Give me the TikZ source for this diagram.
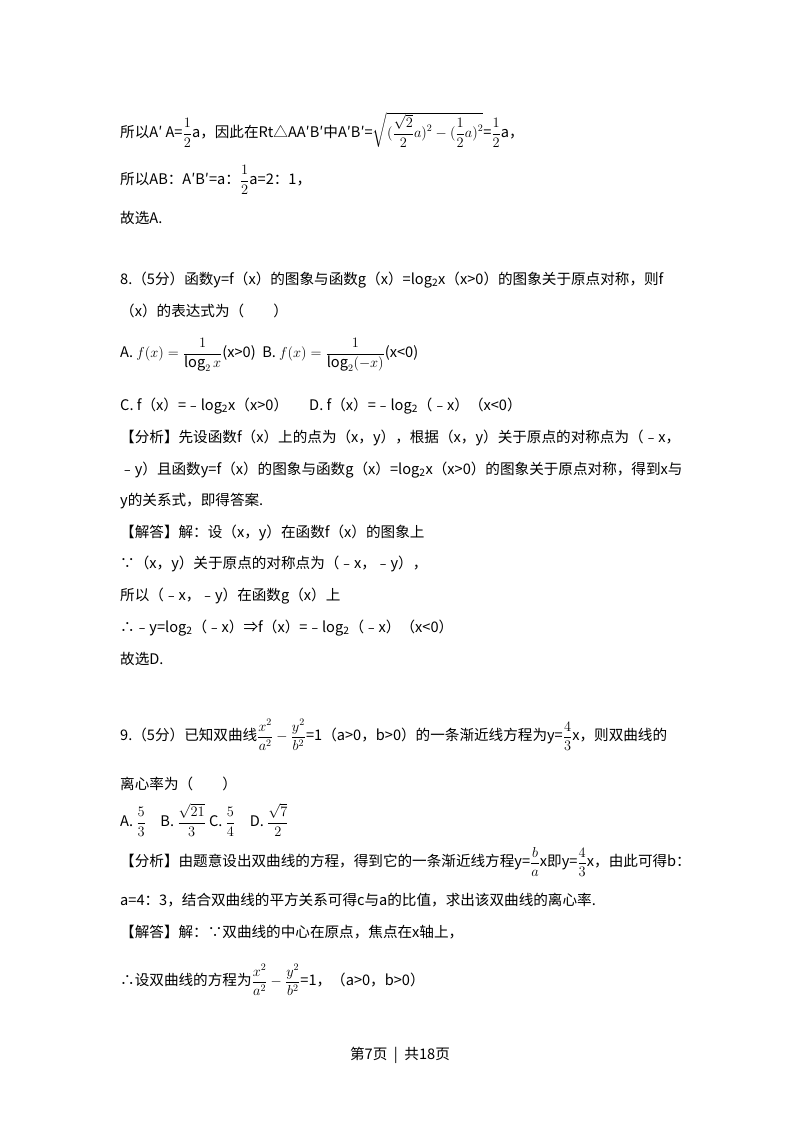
\documentclass[tikz,border=0pt]{standalone}
\usepackage{amsmath}
\usepackage{fontspec}
\setmainfont{Noto Sans CJK SC}
\begin{document}
\begin{tikzpicture}[x=1pt,y=1pt,txt/.style={anchor=west,inner sep=0pt,font=\fontsize{14.6}{17}\selectfont}]
\useasboundingbox (0,0) rectangle (800,-1132);
\node[txt] (l1) at (120,-130) {所以A′ A=$\dfrac{1}{2}$a，因此在Rt△AA′B′中A′B′=$\sqrt{\displaystyle(\frac{\sqrt{2}}{2}a)^2-(\frac{1}{2}a)^2}$=$\dfrac{1}{2}$a，};
\node[txt] (l2) at (120,-180) {所以AB：A′B′=a：$\dfrac{1}{2}$a=2：1，};
\node[txt] (l3) at (120,-218) {故选A.};
\node[txt] (l4) at (120,-280) {8.（5分）函数y=f（x）的图象与函数g（x）=log\textsubscript{2}x（x>0）的图象关于原点对称，则f};
\node[txt] (l5) at (120,-311) {（x）的表达式为（\quad\quad ）};
\node[txt] (l6) at (120,-355) {A. $f(x)=\dfrac{1}{\log_2 x}$(x>0)\ \ B. $f(x)=\dfrac{1}{\log_2(-x)}$(x<0)};
\node[txt] (l7) at (120,-406) {C. f（x）=﹣log\textsubscript{2}x（x>0）\quad\ \ D. f（x）=﹣log\textsubscript{2}（﹣x）（x<0）};
\node[txt] (l8) at (120,-438) {【分析】先设函数f（x）上的点为（x，y），根据（x，y）关于原点的对称点为（﹣x，};
\node[txt] (l9) at (120,-470) {﹣y）且函数y=f（x）的图象与函数g（x）=log\textsubscript{2}x（x>0）的图象关于原点对称，得到x与};
\node[txt] (l10) at (120,-501) {y的关系式，即得答案.};
\node[txt] (l11) at (120,-533) {【解答】解：设（x，y）在函数f（x）的图象上};
\node[txt] (l12) at (120,-564) {∵（x，y）关于原点的对称点为（﹣x，﹣y），};
\node[txt] (l13) at (120,-596) {所以（﹣x，﹣y）在函数g（x）上};
\node[txt] (l14) at (120,-628) {∴﹣y=log\textsubscript{2}（﹣x）⇒f（x）=﹣log\textsubscript{2}（﹣x）（x<0）};
\node[txt] (l15) at (120,-659) {故选D.};
\node[txt] (l16) at (120,-735) {9.（5分）已知双曲线$\dfrac{x^2}{a^2}-\dfrac{y^2}{b^2}$=1（a>0，b>0）的一条渐近线方程为y=$\dfrac{4}{3}$x，则双曲线的};
\node[txt] (l17) at (120,-784) {离心率为（\quad\quad ）};
\node[txt] (l18) at (120,-820) {A. $\dfrac{5}{3}$\quad B. $\dfrac{\sqrt{21}}{3}$ C. $\dfrac{5}{4}$\quad D. $\dfrac{\sqrt{7}}{2}$};
\node[txt] (l19) at (120,-862) {【分析】由题意设出双曲线的方程，得到它的一条渐近线方程y=$\dfrac{b}{a}$x即y=$\dfrac{4}{3}$x，由此可得b：};
\node[txt] (l20) at (120,-900) {a=4：3，结合双曲线的平方关系可得c与a的比值，求出该双曲线的离心率.};
\node[txt] (l21) at (120,-932) {【解答】解：∵双曲线的中心在原点，焦点在x轴上，};
\node[txt] (l22) at (120,-980) {∴设双曲线的方程为$\dfrac{x^2}{a^2}-\dfrac{y^2}{b^2}$=1，（a>0，b>0）};
\node[txt,anchor=center] (foot) at (400,-1055) {第7页\ \ \textbar\ \ 共18页};
\end{tikzpicture}
\end{document}
